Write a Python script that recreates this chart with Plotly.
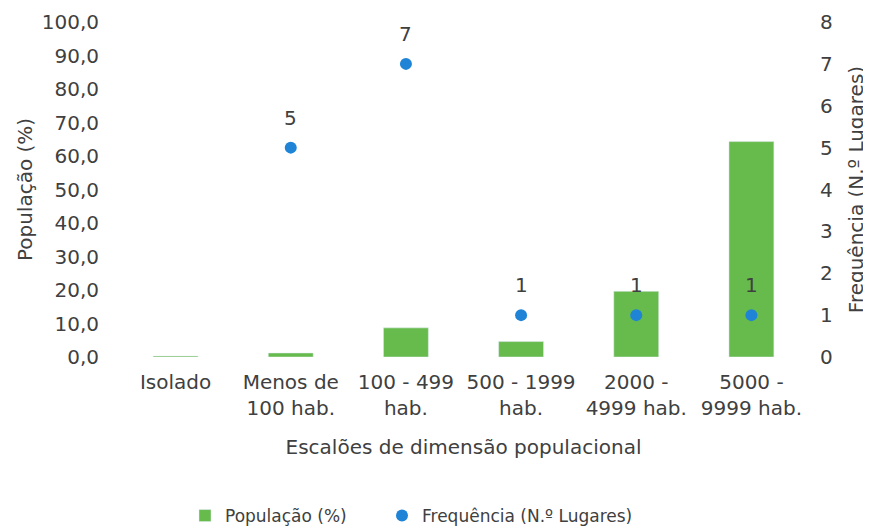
import plotly.graph_objects as go

categories = ["Isolado", "Menos de<br>100 hab.", "100 - 499<br>hab.", "500 - 1999<br>hab.", "2000 -<br>4999 hab.", "5000 -<br>9999 hab."]
populacao = [0.3, 1.2, 8.7, 4.6, 19.6, 64.3]
frequencia = [None, 5, 7, 1, 1, 1]

font_family = "DejaVu Sans, sans-serif"
txt = "#404040"
fs = 20

fig = go.Figure()
fig.add_trace(go.Bar(
    x=categories, y=populacao, name="População (%)",
    marker=dict(color="#66bb4c"), width=0.39, yaxis="y", legend="legend",
))
fig.add_trace(go.Scatter(
    x=categories, y=frequencia, name="Frequência (N.º Lugares)",
    mode="markers",
    marker=dict(color="#1f84d6", size=12), yaxis="y2", legend="legend2",
))
for c, v in zip(categories, frequencia):
    if v is not None:
        fig.add_annotation(x=c, y=v, xref="x", yref="y2", text=str(v), showarrow=False,
                           yshift=30, font=dict(size=fs, color=txt, family=font_family))

leg_common = dict(orientation="h", xref="container", xanchor="left", yref="container", y=0.0,
                  yanchor="bottom", font=dict(size=17, color=txt), itemwidth=30)

fig.update_layout(
    width=871, height=526,
    paper_bgcolor="white", plot_bgcolor="white",
    separators=", ",
    margin=dict(l=110, r=70, t=14, b=177, autoexpand=False),
    font=dict(family=font_family, size=fs, color=txt),
    showlegend=True,
    legend=dict(x=(225 - 48) / 871, **leg_common),
    legend2=dict(x=(422 - 48) / 871, **leg_common),
    xaxis=dict(
        showgrid=False, showline=False, ticks="", automargin=False, ticklabelstandoff=11,
        tickfont=dict(size=fs, color=txt),
        title=dict(text="Escalões de dimensão populacional", font=dict(size=fs, color=txt), standoff=20),
    ),
    yaxis=dict(
        range=[0, 100], dtick=10, tickformat=".1f", showgrid=False, zeroline=False, automargin=False,
        showline=False, tickfont=dict(size=fs, color=txt), ticklabelstandoff=18,
        title=dict(text="População (%)", font=dict(size=fs, color=txt), standoff=3),
    ),
    yaxis2=dict(
        range=[0, 8], dtick=1, overlaying="y", side="right", showgrid=False, automargin=False,
        zeroline=False, showline=False, tickfont=dict(size=fs, color=txt), ticklabelstandoff=10,
        title=dict(text="Frequência (N.º Lugares)", font=dict(size=fs, color=txt), standoff=17),
    ),
)

fig.write_html("out.html")
